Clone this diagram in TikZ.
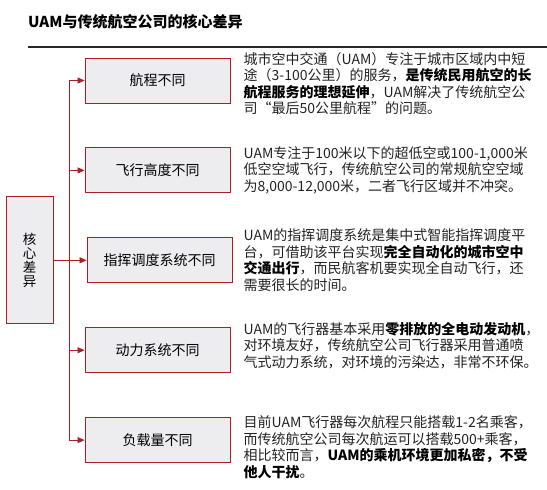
\documentclass[tikz,border=0pt]{standalone}
\usepackage{fontspec}
\setmainfont{Noto Sans CJK SC}
\usetikzlibrary{arrows.meta,positioning}
\definecolor{boxred}{RGB}{168,32,36}
\definecolor{boxfill}{RGB}{237,237,240}
\definecolor{bodytext}{RGB}{34,34,34}

\begin{document}
\begin{tikzpicture}[
            x=1pt, y=1pt,
            node distance=44pt,
            box/.style={draw=boxred, fill=boxfill, line width=0.9pt, minimum width=145pt, minimum height=45pt, align=center, font=\fontsize{14}{16}\selectfont},
            desc/.style={align=left, inner sep=0pt, text=bodytext, font=\fontsize{14}{16.5}\selectfont},
            link/.style={draw=boxred, line width=0.8pt},
            >={Triangle[length=7pt,width=6pt]}
        ]
        \useasboundingbox (0,0) rectangle (547,-490);

        % title and rule
        \node[anchor=west, inner sep=0pt, font=\fontsize{15}{17}\selectfont\bfseries] (title) at (28,-22) {UAM与传统航空公司的核心差异};
        \coordinate (ruleL) at (28,-47);
        \coordinate (ruleR) at (547,-47);
        \draw[line width=1.6pt, black!85] (ruleL) -- (ruleR);

        % the five differences
        \node[box] (b1) at (157.5,-80.5) {航程不同};
        \node[box, below=of b1] (b2) {飞行高度不同};
        \node[box, below=of b2, xshift=2pt] (b3) {指挥调度系统不同};
        \node[box, below=of b3, xshift=-2pt] (b4) {动力系统不同};
        \node[box, below=of b4] (b5) {负载量不同};

        \node[box, minimum width=47pt, minimum height=127pt, inner sep=0pt, font=\fontsize{13.5}{14}\selectfont, left=33pt of b3] (core) {核\\心\\差\\异};

        % connectors
        \coordinate (bus) at (69,-257);
        \draw[link] (bus |- b1) -- (bus |- b5);
        \draw[link, ->] (core) -- (b3);
        \foreach \i in {1,2,4,5}
            \draw[link, ->] (bus |- b\i) -- (b\i);

        % descriptions
        \node[desc, right=13pt of b1, yshift=-3pt] (d1) {城市空中交通（UAM）专注于城市区域内中短\\
            途（3-100公里）的服务，\textbf{\color{black}是传统民用航空的长}\\
            \textbf{\color{black}航程服务的理想延伸}，UAM解决了传统航空公\\
            司“最后50公里航程”的问题。};
        \node[desc, right=13pt of b2] (d2) {UAM专注于100米以下的超低空或100-1,000米\\
            低空空域飞行，传统航空公司的常规航空空域\\
            为8,000-12,000米，二者飞行区域并不冲突。};
        \node[desc, right=11pt of b3] (d3) {UAM的指挥调度系统是集中式智能指挥调度平\\
            台，可借助该平台实现\textbf{\color{black}完全自动化的城市空中}\\
            \textbf{\color{black}交通出行}，而民航客机要实现全自动飞行，还\\
            需要很长的时间。};
        \node[desc, right=13pt of b4, yshift=5pt] (d4) {UAM的飞行器基本采用\textbf{\color{black}零排放的全电动发动机}，\\
            对环境友好，传统航空公司飞行器采用普通喷\\
            气式动力系统，对环境的污染达，非常不环保。};
        \node[desc, right=13pt of b5, yshift=-7pt] (d5) {目前UAM飞行器每次航程只能搭载1-2名乘客，\\
            而传统航空公司每次航运可以搭载500+乘客，\\
            相比较而言，\textbf{\color{black}UAM的乘机环境更加私密，不受}\\
            \textbf{\color{black}他人干扰}。};
    \end{tikzpicture}
\end{document}
